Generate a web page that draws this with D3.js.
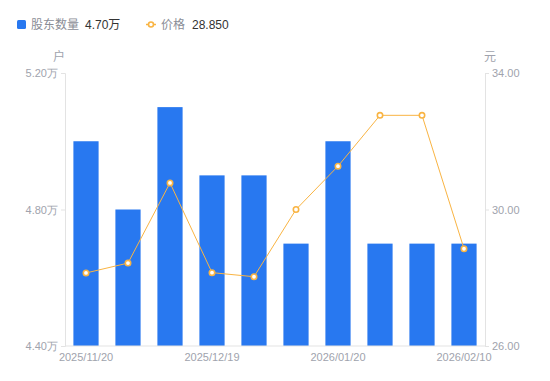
<!DOCTYPE html>
<html><head><meta charset="utf-8">
<script src="https://cdn.jsdelivr.net/npm/d3@7"></script>
<style>
html,body{margin:0;padding:0;background:#fff;}
svg{display:block;font-family:"Liberation Sans","Noto Sans CJK SC",sans-serif;}
</style></head>
<body><svg id="c" width="550" height="381"></svg>
<script>
const dates = ["2025/11/20","2025/11/30","2025/12/10","2025/12/19","2025/12/31","2026/01/09","2026/01/20","2026/01/30","2026/02/06","2026/02/10"];
const holders = [5.00, 4.80, 5.10, 4.90, 4.90, 4.70, 5.00, 4.70, 4.70, 4.70];
const prices = [28.14, 28.43, 30.78, 28.15, 28.03, 30.00, 31.27, 32.76, 32.76, 28.85];
const leftTicks = [4.40, 4.80, 5.20];
const rightTicks = [26, 30, 34];
const xLabelIdx = [0, 3, 6, 9];

const svg = d3.select("#c");
const L = 65, R = 485, T = 73, B = 346;
const x = d3.scaleBand().domain(dates).range([L, R]).paddingInner(0.4).paddingOuter(0.2);
const yL = d3.scaleLinear().domain([4.40, 5.20]).range([B, T]);
const yR = d3.scaleLinear().domain([26, 34]).range([B, T]);
const gray = "#a0a3ad", axisC = "#e3e3e3";
const blue = "#2878f0", orange = "#f9b443";

// bars
svg.append("g").selectAll("rect").data(holders).join("rect")
  .attr("x", (d,i) => x(dates[i])).attr("width", x.bandwidth())
  .attr("y", d => yL(d)).attr("height", d => B - yL(d))
  .attr("fill", blue);

// axes
const gl = svg.append("g").attr("transform", `translate(${L},0)`)
  .call(d3.axisLeft(yL).tickValues(leftTicks).tickSize(4).tickPadding(3).tickFormat(d => d3.format(".2f")(d) + "万"));
const gr = svg.append("g").attr("transform", `translate(${R},0)`)
  .call(d3.axisRight(yR).tickValues(rightTicks).tickSize(4).tickPadding(3).tickFormat(d3.format(".2f")));
const gb = svg.append("g").attr("transform", `translate(0,${B})`)
  .call(d3.axisBottom(x).tickValues(xLabelIdx.map(i => dates[i])).tickSize(0).tickPadding(7));
[gl, gr, gb].forEach(g => {
  g.select(".domain").attr("stroke", axisC);
  g.selectAll(".tick line").attr("stroke", axisC);
  g.selectAll("text").attr("fill", gray).style("font-size", "11px");
});
gb.select(".domain").attr("d", `M${L},0H${R}`);

// unit labels
svg.append("text").attr("x", 59).attr("y", 61).attr("text-anchor", "middle").attr("fill", gray).style("font-size", "12px").text("户");
svg.append("text").attr("x", 490).attr("y", 61).attr("text-anchor", "middle").attr("fill", gray).style("font-size", "12px").text("元");

// line
const cx = i => x(dates[i]) + x.bandwidth() / 2;
svg.append("path").datum(prices)
  .attr("fill", "none").attr("stroke", orange).attr("stroke-width", 1)
  .attr("d", d3.line().x((d,i) => cx(i)).y(d => yR(d)));
svg.append("g").selectAll("circle").data(prices).join("circle")
  .attr("cx", (d,i) => cx(i)).attr("cy", d => yR(d)).attr("r", 2.7)
  .attr("fill", "#fff").attr("stroke", orange).attr("stroke-width", 1.6);

// legend
const lg = svg.append("g").style("font-size", "12px");
lg.append("rect").attr("x", 17).attr("y", 20).attr("width", 9).attr("height", 9).attr("rx", 1.5).attr("fill", blue);
lg.append("text").attr("x", 31).attr("y", 29).attr("fill", "#8a8d96").text("股东数量");
lg.append("text").attr("x", 85).attr("y", 29).attr("fill", "#333").text("4.70万");
lg.append("line").attr("x1", 146).attr("x2", 156).attr("y1", 24.5).attr("y2", 24.5).attr("stroke", orange).attr("stroke-width", 1.5);
lg.append("circle").attr("cx", 151).attr("cy", 24.5).attr("r", 2.5).attr("fill", "#fff").attr("stroke", orange).attr("stroke-width", 1.6);
lg.append("text").attr("x", 161).attr("y", 29).attr("fill", "#8a8d96").text("价格");
lg.append("text").attr("x", 192).attr("y", 29).attr("fill", "#333").text("28.850");
</script></body></html>
